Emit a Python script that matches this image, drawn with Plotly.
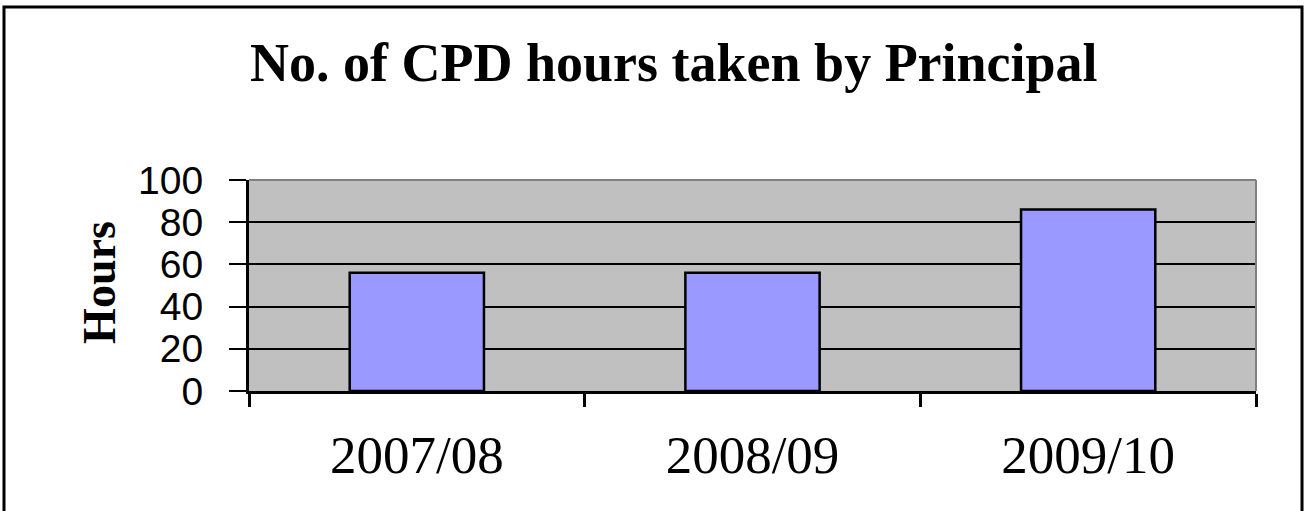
import plotly.graph_objects as go

# data
years = ['2007/08', '2008/09', '2009/10']
hours = [56, 56, 86]
y_ticks = [0, 20, 40, 60, 80, 100]

title_text = 'No. of CPD hours taken by Principal'
y_label = 'Hours'

fig = go.Figure()
fig.add_trace(go.Bar(x=years,
                     y=hours,
                     marker_color='#9999FF',
                     marker_line=dict(color='black', width=2.5),
                     showlegend=False))

fig.update_layout(title=dict(text='<b>%s</b>' % title_text,
                             x=0.514, xanchor='center',
                             y=0.879, yanchor='middle',
                             font=dict(family='Liberation Serif', size=54, color='black')),
                  width=1311,
                  height=511,
                  paper_bgcolor='white',
                  plot_bgcolor='#C0C0C0',
                  bargap=0.6,
                  margin=dict(l=249, r=55, t=180, b=120))

fig.update_xaxes(showline=True, linecolor='black', linewidth=3,
                 ticks='outside', tickson='boundaries', ticklen=13,
                 tickwidth=3, tickcolor='black',
                 ticklabelstandoff=15,
                 tickfont=dict(family='Liberation Serif', size=53, color='black'),
                 showgrid=False)
fig.update_yaxes(range=[0, 100], tickvals=y_ticks,
                 showline=True, linecolor='black', linewidth=3,
                 ticks='outside', ticklen=17, tickwidth=2, tickcolor='black',
                 ticklabelstandoff=18,
                 tickfont=dict(family='Liberation Sans', size=39, color='black'),
                 showgrid=True, gridcolor='black', gridwidth=2,
                 zeroline=False)

# y axis title
fig.add_annotation(text='<b>%s</b>' % y_label, textangle=-90,
                   xref='paper', yref='paper', x=-0.148, y=0.517,
                   xanchor='center', yanchor='middle',
                   showarrow=False,
                   font=dict(family='Liberation Serif', size=46, color='black'))

# grey top / right edges of the plot area
fig.add_shape(type='line', xref='paper', yref='paper', x0=0, x1=1, y0=1, y1=1,
              line=dict(color='#808080', width=2))
fig.add_shape(type='line', xref='paper', yref='paper', x0=1, x1=1, y0=0, y1=1,
              line=dict(color='#808080', width=2))

# outer chart border
fig.add_shape(type='rect', xref='paper', yref='paper',
              x0=-0.2433, x1=1.0457, y0=-0.62, y1=1.82,
              line=dict(color='black', width=3))

fig.write_html('out.html', config={'displayModeBar': False},
               post_script="document.body.style.margin='0';")
